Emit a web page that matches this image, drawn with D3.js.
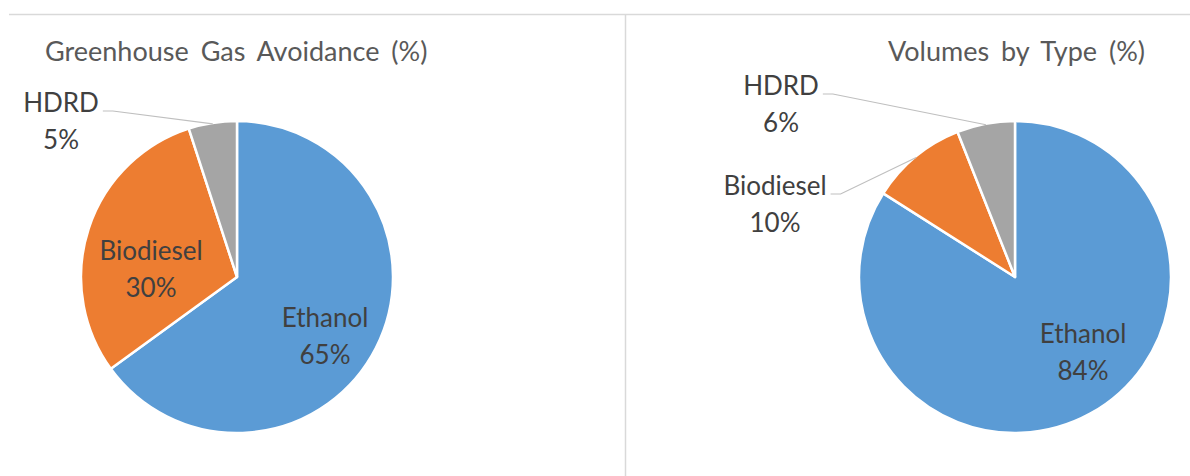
<!DOCTYPE html>
<html>
<head>
<meta charset="utf-8">
<script src="https://cdn.jsdelivr.net/npm/d3@7"></script>
<style>
  body { margin: 0; background: #fff; }
  text { font-family: Lato, "Open Sans", sans-serif; }
</style>
</head>
<body>
<div id="chart"></div>
<script>
var svgWidth = 1190;
var svgHeight = 476;

// data
var categories = ["Ethanol", "Biodiesel", "HDRD"];
var ghgValues = [65, 30, 5];
var volumeValues = [84, 10, 6];
var sliceColors = ["#5B9BD5", "#ED7D31", "#A5A5A5"];

// label placement (offset of first baseline from pie centre), outside labels get a leader
var ghgLabels = [
  { dx: 88, dy: 50, outside: false },
  { dx: -86, dy: -17, outside: false },
  { dx: -176, dy: -165, outside: true }
];
var volumeLabels = [
  { dx: 68, dy: 66, outside: false },
  { dx: -240, dy: -82, outside: true },
  { dx: -234, dy: -182, outside: true }
];

var svg = d3.select("#chart")
  .append("svg")
  .attr("width", svgWidth)
  .attr("height", svgHeight);

// panel borders
svg.append("line")
  .attr("x1", 9).attr("x2", svgWidth)
  .attr("y1", 14.5).attr("y2", 14.5)
  .attr("stroke", "#d9d9d9").attr("stroke-width", 1.5);
svg.append("line")
  .attr("x1", 625.5).attr("x2", 625.5)
  .attr("y1", 14).attr("y2", svgHeight)
  .attr("stroke", "#d9d9d9").attr("stroke-width", 1.5);

var radius = 156;
var fontSize = 26;
var lineGap = 37;

function drawPie(cx, cy, values, labels, title, titleX) {
  svg.append("text")
    .attr("x", titleX)
    .attr("y", 61)
    .attr("fill", "#595959")
    .style("font-size", "27px")
    .style("word-spacing", "5px")
    .text(title);

  var g = svg.append("g")
    .attr("transform", `translate(${cx}, ${cy})`);

  var pie = d3.pie().sort(null).value(d => d);
  var arcs = pie(values);

  var arc = d3.arc().innerRadius(0).outerRadius(radius);
  var edgeArc = d3.arc().innerRadius(radius - 1).outerRadius(radius - 1);

  g.selectAll("path")
    .data(arcs)
    .enter()
    .append("path")
    .attr("d", arc)
    .attr("fill", (d, i) => sliceColors[i])
    .attr("stroke", "#fff")
    .attr("stroke-width", 2.5)
    .attr("stroke-linejoin", "round");

  arcs.forEach(function(d, i) {
    var lab = labels[i];
    var t = g.append("text")
      .attr("text-anchor", "middle")
      .attr("fill", "#404040")
      .style("font-size", fontSize + "px");
    t.append("tspan").attr("x", lab.dx).attr("y", lab.dy).text(categories[i]);
    t.append("tspan").attr("x", lab.dx).attr("y", lab.dy + lineGap).text(d.value + "%");

    if (lab.outside) {
      var w = t.select("tspan").node().getComputedTextLength();
      var sx = lab.dx + w / 2 + 4;
      var sy = lab.dy - 1;
      var end = edgeArc.centroid(d);
      g.append("polyline")
        .attr("points", [[sx, sy], [sx + 10, sy], end].map(p => p.join(",")).join(" "))
        .attr("fill", "none")
        .attr("stroke", "#bfbfbf")
        .attr("stroke-width", 1.2);
    }
  });
}

drawPie(237, 277, ghgValues, ghgLabels, "Greenhouse Gas Avoidance (%)", 45);
drawPie(1015, 277, volumeValues, volumeLabels, "Volumes by Type (%)", 888);
</script>
</body>
</html>
